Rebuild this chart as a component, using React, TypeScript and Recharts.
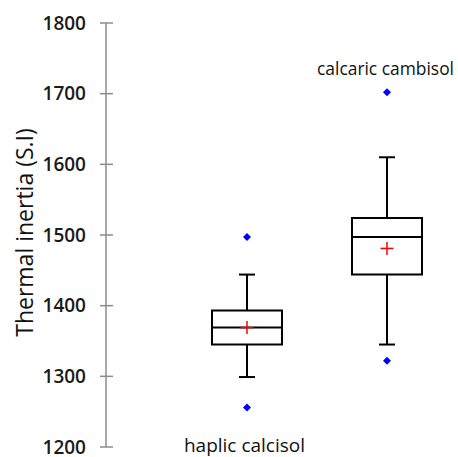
import React from 'react';
import { ComposedChart, Bar, Scatter, XAxis, YAxis } from 'recharts';

const categories = ['haplic calcisol', 'calcaric cambisol'];
const whiskerLow = [1299, 1345];
const whiskerHigh = [1444, 1610];
const q1 = [1345, 1444];
const q3 = [1393, 1524];
const medians = [1369, 1497];
const means = [1369, 1481];
const outliersHigh = [1497, 1702];
const outliersLow = [1256, 1322];
const yTicks = [1200, 1300, 1400, 1500, 1600, 1700, 1800];
const yTitle = 'Thermal inertia (S.I)';

const data = categories.map((name, i) => ({
  name,
  whisker: [whiskerLow[i], whiskerHigh[i]],
  box: [q1[i], q3[i]],
  median: medians[i],
  mean: means[i],
  outHigh: outliersHigh[i],
  outLow: outliersLow[i],
}));

const FONT = '"Open Sans", sans-serif';
const TICK_SIZE = 6;
const TICK_MARGIN = 14;

const YTick = (props: any) => {
  const { x, y, payload } = props;
  const axisX = x + TICK_SIZE + TICK_MARGIN;
  return (
    <g>
      <line x1={axisX} x2={axisX + 7} y1={y} y2={y} stroke="#8c8c8c" strokeWidth={1.5} />
      <text x={x} y={y} dy={6.8} textAnchor="end" fontFamily={FONT} fontSize={19} fontWeight={600} fill="#1a1a1a">
        {payload.value}
      </text>
    </g>
  );
};

const YTitle = (props: any) => {
  const vb = props.viewBox || {};
  const x = (vb.x || 0) + 25;
  const y = (vb.y || 0) + (vb.height || 0) / 2 - 2.5;
  return (
    <text
      x={x}
      y={y}
      transform={`rotate(-90, ${x}, ${y})`}
      textAnchor="middle"
      fontFamily={FONT}
      fontSize={23}
      fill="#111"
    >
      {yTitle}
    </text>
  );
};

const WhiskerShape = (props: any) => {
  const { x, y, width, height } = props;
  const cx = x + width / 2;
  const top = Math.min(y, y + height);
  const bot = Math.max(y, y + height);
  const cap = 8;
  return (
    <g stroke="#000" strokeWidth={2}>
      <line x1={cx} x2={cx} y1={top} y2={bot} />
      <line x1={cx - cap} x2={cx + cap} y1={top} y2={top} />
      <line x1={cx - cap} x2={cx + cap} y1={bot} y2={bot} />
    </g>
  );
};

const MedianShape = (props: any) => {
  const { cx, cy } = props;
  return <line x1={cx - 35} x2={cx + 35} y1={cy} y2={cy} stroke="#000" strokeWidth={2} />;
};

const MeanShape = (props: any) => {
  const { cx, cy } = props;
  return (
    <g stroke="#ff0000" strokeWidth={1.5}>
      <line x1={cx - 6.5} x2={cx + 6.5} y1={cy} y2={cy} />
      <line x1={cx} x2={cx} y1={cy - 6.5} y2={cy + 6.5} />
    </g>
  );
};

const diamond = (cx: number, cy: number) => {
  const r = 4;
  return `M${cx},${cy - r}L${cx + r},${cy}L${cx},${cy + r}L${cx - r},${cy}Z`;
};

const OutHighShape = (props: any) => {
  const { cx, cy, payload } = props;
  return (
    <g>
      <path d={diamond(cx, cy)} fill="#0000ff" />
      {payload.name === 'calcaric cambisol' && (
        <text x={cx} y={cy - 23} dx={-1.5} dy={6} textAnchor="middle" fontFamily={FONT} fontSize={17.4} fill="#111">
          {payload.name}
        </text>
      )}
    </g>
  );
};

const OutLowShape = (props: any) => {
  const { cx, cy, payload } = props;
  return (
    <g>
      <path d={diamond(cx, cy)} fill="#0000ff" />
      {payload.name === 'haplic calcisol' && (
        <text x={cx} y={cy + 39} dx={-2.5} dy={6} textAnchor="middle" fontFamily={FONT} fontSize={19} fill="#111">
          {payload.name}
        </text>
      )}
    </g>
  );
};

export default function App() {
  const pad = { left: 71, right: 0 };
  return (
    <div style={{ width: 458, height: 457, paddingLeft: 8, paddingTop: 8, boxSizing: 'border-box' }}>
      <style>{'body{margin:0}'}</style>
      <ComposedChart width={450} height={449} data={data} margin={{ top: 15, right: 1, bottom: 10, left: 0 }}>
        <XAxis xAxisId="w" dataKey="name" type="category" hide padding={pad} />
        <XAxis xAxisId="b" dataKey="name" type="category" hide padding={pad} />
        <YAxis
          domain={[1200, 1800]}
          ticks={yTicks}
          width={98}
          interval={0}
          stroke="#8c8c8c"
          strokeWidth={1.5}
          tickSize={TICK_SIZE}
          tickMargin={TICK_MARGIN}
          tick={<YTick />}
          label={{ content: (p: any) => <YTitle {...p} /> }}
        />
        <Bar xAxisId="w" dataKey="whisker" barSize={70} shape={<WhiskerShape />} isAnimationActive={false} />
        <Bar xAxisId="b" dataKey="box" barSize={70} fill="#fff" stroke="#000" strokeWidth={2} isAnimationActive={false} />
        <Scatter xAxisId="b" dataKey="median" shape={<MedianShape />} isAnimationActive={false} />
        <Scatter xAxisId="b" dataKey="mean" shape={<MeanShape />} isAnimationActive={false} />
        <Scatter xAxisId="b" dataKey="outHigh" shape={<OutHighShape />} isAnimationActive={false} />
        <Scatter xAxisId="b" dataKey="outLow" shape={<OutLowShape />} isAnimationActive={false} />
      </ComposedChart>
    </div>
  );
}
